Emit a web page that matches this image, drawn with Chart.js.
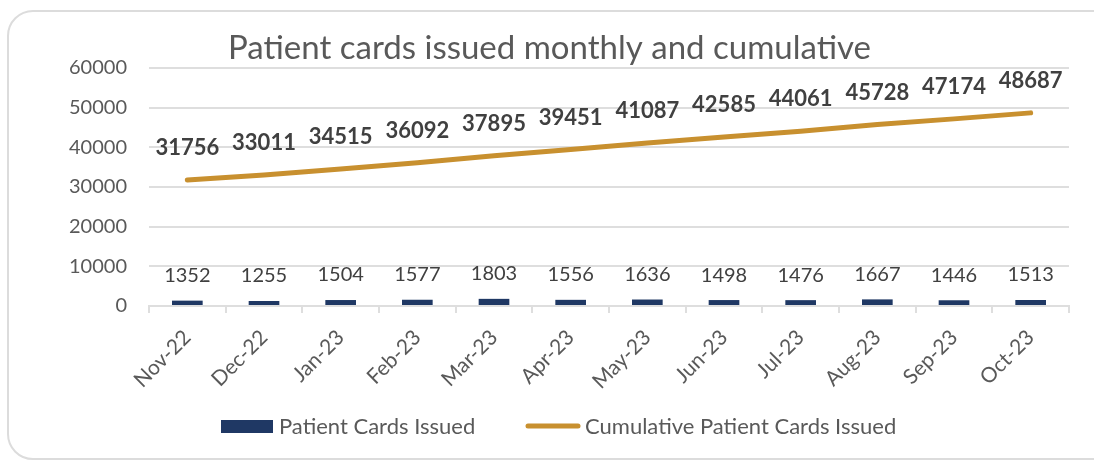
<!DOCTYPE html>
<html>
<head>
<meta charset="utf-8">
<script src="https://cdn.jsdelivr.net/npm/chart.js@4.4.1/dist/chart.umd.min.js"></script>
<style>
  html, body { margin: 0; padding: 0; background: #ffffff; }
  #wrap { position: relative; width: 1094px; height: 460px; overflow: hidden; }
  /* card border like the Excel chart frame */
  #card {
    position: absolute; left: 7px; top: 10px; width: 1110px; height: 446px;
    border: 2px solid #dcdcdc; border-radius: 26px; background: #fff;
  }
  #chart { position: absolute; left: 0; top: 0; }
</style>
</head>
<body>
<div id="wrap">
  <div id="card"></div>
  <canvas id="chart" width="1094" height="460"></canvas>
</div>
<script>
// ── Dados ──
const months = ['Nov-22','Dec-22','Jan-23','Feb-23','Mar-23','Apr-23','May-23','Jun-23','Jul-23','Aug-23','Sep-23','Oct-23'];
const cardsIssued = [1352, 1255, 1504, 1577, 1803, 1556, 1636, 1498, 1476, 1667, 1446, 1513];
const cumulativeCards = [31756, 33011, 34515, 36092, 37895, 39451, 41087, 42585, 44061, 45728, 47174, 48687];
const yTicks = [0, 10000, 20000, 30000, 40000, 50000, 60000];

const FONT = "Lato, 'Open Sans', sans-serif";
const BAR_COLOR = '#1f3864';
const LINE_COLOR = '#c8902f';
const TEXT_GRAY = '#595959';
const GRID = '#dedede';

// Rotulos de valores acima das barras e da linha
const valueLabels = {
  id: 'valueLabels',
  afterDatasetsDraw(chart) {
    const ctx = chart.ctx;
    ctx.save();
    ctx.textAlign = 'center';
    ctx.textBaseline = 'middle';
    const bars = chart.getDatasetMeta(0).data;
    ctx.font = `20px ${FONT}`;
    ctx.fillStyle = '#404040';
    bars.forEach((b, i) => ctx.fillText(String(cardsIssued[i]), b.x, b.y - 25));
    const pts = chart.getDatasetMeta(1).data;
    ctx.font = `bold 22px ${FONT}`;
    ctx.fillStyle = '#404040';
    pts.forEach((p, i) => ctx.fillText(String(cumulativeCards[i]), p.x, p.y - 32));
    ctx.restore();
  }
};

// Legenda desenhada a mao (caixa para barras, traco para linha)
const bottomLegend = {
  id: 'bottomLegend',
  afterDraw(chart) {
    const ctx = chart.ctx;
    const y = 426;
    ctx.save();
    ctx.font = `22px ${FONT}`;
    ctx.textBaseline = 'middle';
    ctx.textAlign = 'left';
    ctx.fillStyle = BAR_COLOR;
    ctx.fillRect(221, y - 6, 52, 13);
    ctx.fillStyle = TEXT_GRAY;
    ctx.fillText(chart.data.datasets[0].label, 279, y + 1);
    ctx.strokeStyle = LINE_COLOR;
    ctx.lineWidth = 5;
    ctx.lineCap = 'round';
    ctx.beginPath();
    ctx.moveTo(528, y);
    ctx.lineTo(578, y);
    ctx.stroke();
    ctx.fillText(chart.data.datasets[1].label, 585, y + 1);
    ctx.restore();
  }
};

new Chart(document.getElementById('chart'), {
  type: 'bar',
  data: {
    labels: months,
    datasets: [
      {
        label: 'Patient Cards Issued',
        data: cardsIssued,
        backgroundColor: BAR_COLOR,
        barPercentage: 0.4,
        categoryPercentage: 1,
        order: 2
      },
      {
        type: 'line',
        label: 'Cumulative Patient Cards Issued',
        data: cumulativeCards,
        borderColor: LINE_COLOR,
        backgroundColor: LINE_COLOR,
        borderWidth: 5,
        borderCapStyle: 'round',
        pointRadius: 0,
        tension: 0,
        order: 1
      }
    ]
  },
  options: {
    responsive: false,
    animation: false,
    layout: { padding: { top: 10, right: 25, left: 30, bottom: 0 } },
    plugins: {
      legend: { display: false },
      tooltip: { enabled: false },
      title: {
        display: true,
        text: 'Patient cards issued monthly and cumulative',
        color: TEXT_GRAY,
        font: { family: FONT, size: 33, weight: 'normal', lineHeight: 1.2 },
        padding: { top: 19, bottom: -0.6 }
      }
    },
    scales: {
      x: {
        grid: { display: true, drawOnChartArea: false, color: GRID, lineWidth: 2, tickLength: 7, offset: true },
        border: { display: true, color: GRID, width: 2 },
        ticks: {
          color: TEXT_GRAY,
          font: { family: FONT, size: 21 },
          minRotation: 45,
          maxRotation: 45,
          padding: 12
        },
        afterFit(scale) { scale.height = 154; }
      },
      y: {
        min: 0,
        max: 60000,
        afterBuildTicks(scale) { scale.ticks = yTicks.map(v => ({ value: v })); },
        grid: { color: GRID, lineWidth: 2, drawTicks: false },
        border: { display: false },
        ticks: {
          color: TEXT_GRAY,
          font: { family: FONT, size: 20 },
          padding: 22,
          callback: v => String(v)
        },
        afterFit(scale) { scale.width = 119; }
      }
    }
  },
  plugins: [valueLabels, bottomLegend]
});
</script>
</body>
</html>
